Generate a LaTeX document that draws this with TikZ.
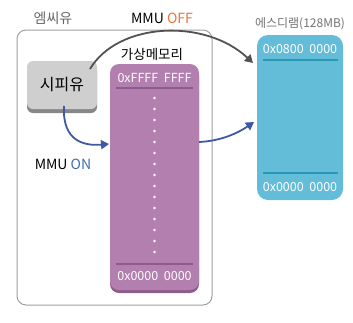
\documentclass[tikz,border=0pt]{standalone}
\usepackage{fontspec}
\setmainfont{Noto Sans CJK KR}
\usetikzlibrary{arrows.meta,positioning,math}
\definecolor{mypurple}{RGB}{178,127,174}
\definecolor{mypurpledark}{RGB}{140,92,138}
\definecolor{myblue}{RGB}{99,188,216}
\definecolor{mybluedark}{RGB}{42,152,180}
\definecolor{mygray}{RGB}{207,207,207}
\definecolor{mygraydark}{RGB}{135,135,135}
\definecolor{myorange}{RGB}{232,118,58}
\definecolor{myarrowblue}{RGB}{62,88,166}
\definecolor{myon}{RGB}{62,110,176}

\begin{document}
\begin{tikzpicture}[x=1pt,y=-1pt,
  label/.style={font=\fontsize{14}{16}\selectfont},
  addr/.style={font=\fontsize{12.5}{14}\selectfont, text=white},
  conn/.style={line width=1.8pt, -{Triangle[length=8pt,width=9pt]}}]
\useasboundingbox (0,0) rectangle (353,322);
\tikzmath{
\vl=110; \vr=199; \vt=64; \vb=290;
\dl=257; \dr=343; \dt=35; \db=200;
}

%%%%%%%%%% mcu outline
\draw[gray!75, line width=1pt, rounded corners=9pt] (17,30) rectangle (212,305);
\node[label, text=black!60] (mcutxt) at (53,18) {엠씨유};
\node[label] (mmuoff) at (162,18) {MMU \textcolor{myorange}{OFF}};

%%%%%%%%%% cpu
\fill[mygraydark, rounded corners=6pt] (27,64) rectangle (97,113);
\fill[mygray, rounded corners=6pt] (27,61) rectangle (97,109);
\node[label, font=\fontsize{16}{18}\selectfont] (cpu) at (62,85) {시피유};

%%%%%%%%%% virtual memory
\fill[mypurpledark, rounded corners=9pt] (\vl,\vt+3) rectangle (\vr,\vb+3);
\fill[mypurple, rounded corners=9pt] (\vl,\vt) rectangle (\vr,\vb);
\node[label, font=\fontsize{13.5}{15}\selectfont] (vmtxt) at (152,54) {가상메모리};
\draw[mypurpledark, line width=1.3pt] (116,88) -- (193,88);
\draw[mypurpledark, line width=1.3pt] (116,264) -- (193,264);
\node[addr] (vtop) at (154.5,78) {0xFFFF\ \ FFFF};
\node[addr] (vbot) at (154.5,276) {0x0000\ \ 0000};
\foreach \y in {98,109,...,252}
  \fill[white] (154.5,\y) circle (1.4);

%%%%%%%%%% sdram
\fill[myblue, rounded corners=11pt] (\dl,\dt) rectangle (\dr,\db);
\node[label, text=black!55, font=\fontsize{12}{14}\selectfont] (dramtxt) at (300,24) {에스디램(128MB)};
\draw[mybluedark, line width=1.3pt] (263,60) -- (338,60);
\draw[mybluedark, line width=1.3pt] (263,173) -- (338,173);
\node[addr] (dtop) at (300,49) {0x0800\ \ 0000};
\node[addr] (dbot) at (300,187) {0x0000\ \ 0000};

%%%%%%%%%% arrows
\coordinate (goff) at (90,69);
\coordinate (gend) at (253,63);
\draw[conn, black!68] (goff) .. controls (118,22) and (205,18) .. (gend);

\coordinate (bon) at (64,106);
\coordinate (bvm) at (109,144);
\draw[conn, myarrowblue] (bon) .. controls (62,142) and (85,146) .. (bvm);

\coordinate (bout) at (199,142);
\coordinate (bdram) at (254,122);
\draw[conn, myarrowblue] (bout) .. controls (221,141) and (238,133) .. (bdram);

\node[label] (mmuon) at (63,164) {MMU \textcolor{myon}{ON}};
\end{tikzpicture}
\end{document}
